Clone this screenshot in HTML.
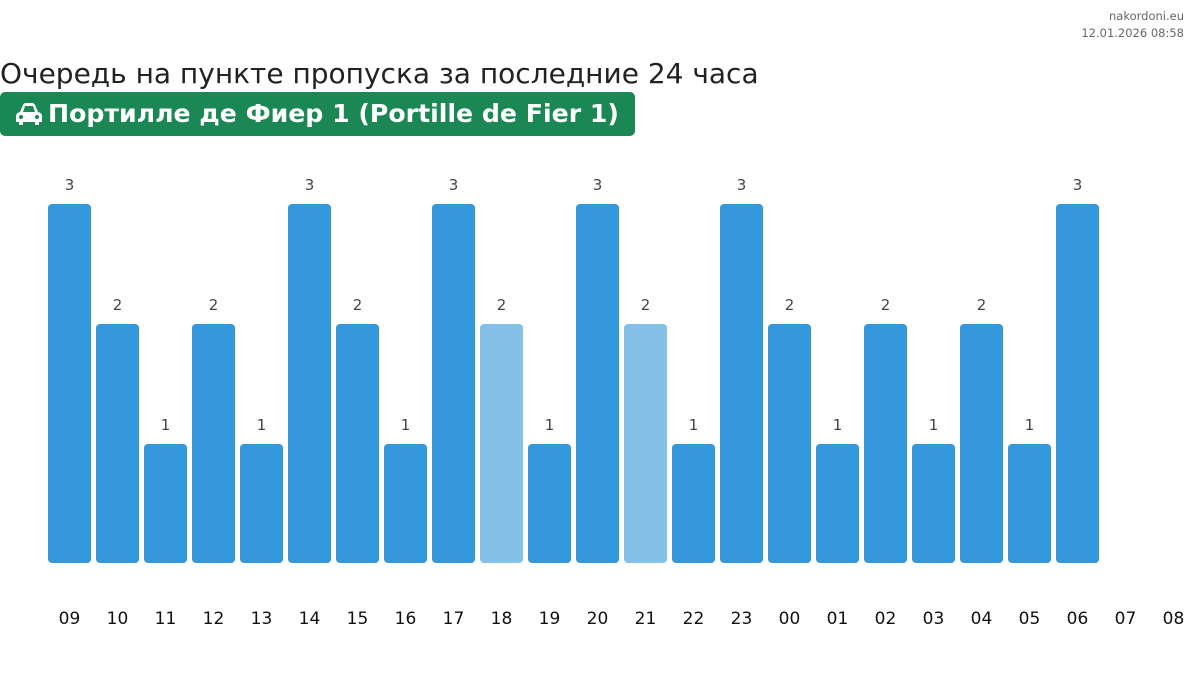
<!DOCTYPE html>
<html><head><meta charset="utf-8"><style>
body{margin:0;width:1200px;height:684px;background:#fff;overflow:hidden;font-family:"DejaVu Sans","Liberation Sans",sans-serif;position:relative}
.src{position:absolute;right:16px;top:8px;text-align:right;font-size:11.5px;color:#666;line-height:17px}
.t{position:absolute;left:0;top:57px;font-size:28px;color:#222;white-space:nowrap}
.b{position:absolute;left:0;top:92px;width:635px;height:44px;background:#1b8754;border-radius:5px;color:#fff;font-weight:bold;font-size:25.2px;line-height:44px;white-space:nowrap}
.b span{position:absolute;left:48px;top:0}
</style></head><body>
<div class="src">nakordoni.eu<br>12.01.2026 08:58</div>
<div class="t">Очередь на пункте пропуска за последние 24 часа</div>
<div class="b"><svg style="position:absolute;left:15px;top:10px" width="28" height="24" viewBox="0 0 28 24"><path d="M5 10 L8 3 Q9 1 11 1 H17 Q19 1 20 3 L23 10 Q27 11 27 14 V20 H24 V23 H20 V20 H8 V23 H4 V20 H1 V14 Q1 11 5 10 Z M8 10 H20 L18 4 H10 Z" fill="#fff" fill-rule="evenodd"/><circle cx="6" cy="15" r="2" fill="#1b8754"/><circle cx="22" cy="15" r="2" fill="#1b8754"/></svg><span>Портилле де Фиер 1 (Portille de Fier 1)</span></div>
<svg style="position:absolute;left:0;top:0" width="1200" height="684" font-family="DejaVu Sans, Liberation Sans, sans-serif" text-anchor="middle">
<g fill="#3498db">
<rect x="48" y="204" width="43" height="359" rx="4"/>
<rect x="96" y="324" width="43" height="239" rx="4"/>
<rect x="144" y="444" width="43" height="119" rx="4"/>
<rect x="192" y="324" width="43" height="239" rx="4"/>
<rect x="240" y="444" width="43" height="119" rx="4"/>
<rect x="288" y="204" width="43" height="359" rx="4"/>
<rect x="336" y="324" width="43" height="239" rx="4"/>
<rect x="384" y="444" width="43" height="119" rx="4"/>
<rect x="432" y="204" width="43" height="359" rx="4"/>
<rect x="480" y="324" width="43" height="239" rx="4" fill="#85c0e8"/>
<rect x="528" y="444" width="43" height="119" rx="4"/>
<rect x="576" y="204" width="43" height="359" rx="4"/>
<rect x="624" y="324" width="43" height="239" rx="4" fill="#85c0e8"/>
<rect x="672" y="444" width="43" height="119" rx="4"/>
<rect x="720" y="204" width="43" height="359" rx="4"/>
<rect x="768" y="324" width="43" height="239" rx="4"/>
<rect x="816" y="444" width="43" height="119" rx="4"/>
<rect x="864" y="324" width="43" height="239" rx="4"/>
<rect x="912" y="444" width="43" height="119" rx="4"/>
<rect x="960" y="324" width="43" height="239" rx="4"/>
<rect x="1008" y="444" width="43" height="119" rx="4"/>
<rect x="1056" y="204" width="43" height="359" rx="4"/>
</g>
<g font-size="15" fill="#444">
<text x="69.5" y="190">3</text><text x="117.5" y="310">2</text><text x="165.5" y="430">1</text><text x="213.5" y="310">2</text><text x="261.5" y="430">1</text><text x="309.5" y="190">3</text><text x="357.5" y="310">2</text><text x="405.5" y="430">1</text><text x="453.5" y="190">3</text><text x="501.5" y="310">2</text><text x="549.5" y="430">1</text><text x="597.5" y="190">3</text><text x="645.5" y="310">2</text><text x="693.5" y="430">1</text><text x="741.5" y="190">3</text><text x="789.5" y="310">2</text><text x="837.5" y="430">1</text><text x="885.5" y="310">2</text><text x="933.5" y="430">1</text><text x="981.5" y="310">2</text><text x="1029.5" y="430">1</text><text x="1077.5" y="190">3</text>
</g>
<g font-size="17" fill="#111">
<text x="69.5" y="624">09</text><text x="117.5" y="624">10</text><text x="165.5" y="624">11</text><text x="213.5" y="624">12</text><text x="261.5" y="624">13</text><text x="309.5" y="624">14</text><text x="357.5" y="624">15</text><text x="405.5" y="624">16</text><text x="453.5" y="624">17</text><text x="501.5" y="624">18</text><text x="549.5" y="624">19</text><text x="597.5" y="624">20</text><text x="645.5" y="624">21</text><text x="693.5" y="624">22</text><text x="741.5" y="624">23</text><text x="789.5" y="624">00</text><text x="837.5" y="624">01</text><text x="885.5" y="624">02</text><text x="933.5" y="624">03</text><text x="981.5" y="624">04</text><text x="1029.5" y="624">05</text><text x="1077.5" y="624">06</text><text x="1125.5" y="624">07</text><text x="1173.5" y="624">08</text>
</g>
</svg>
</body></html>
